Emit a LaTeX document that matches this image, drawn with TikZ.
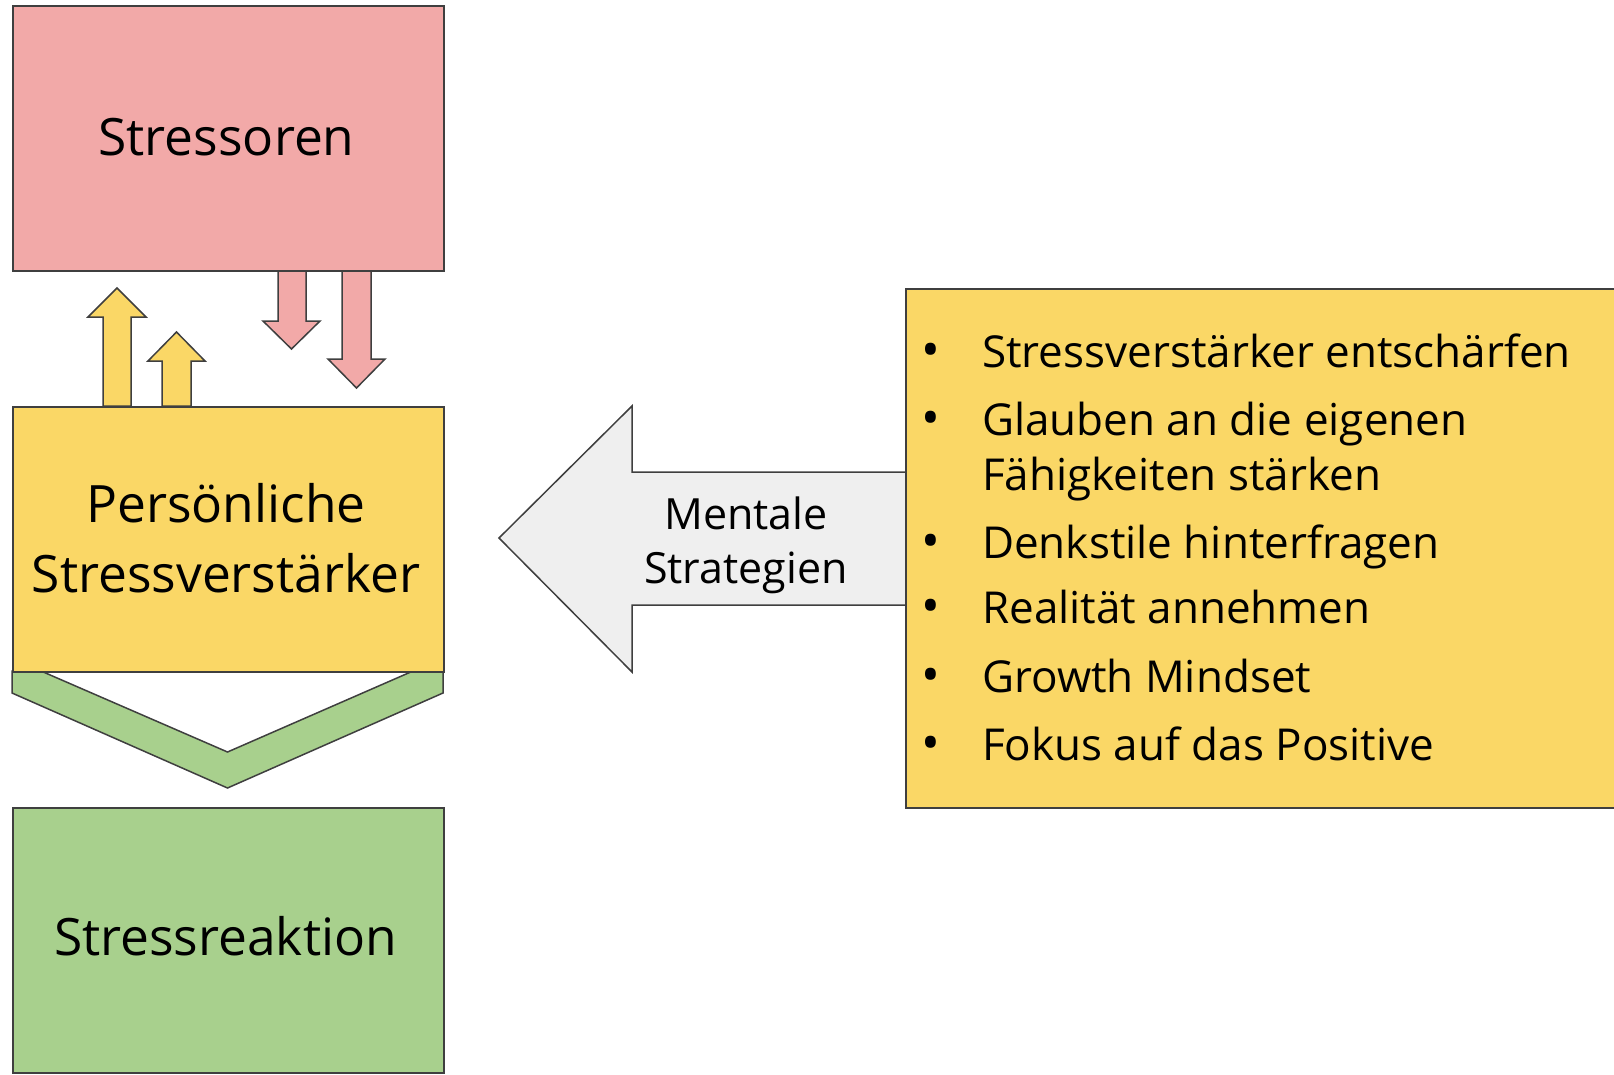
\documentclass[tikz,border=0pt]{standalone}
\usepackage{fontspec}
\setmainfont{Open Sans}
\definecolor{linec}{HTML}{3F3F3F}
\definecolor{pinkc}{HTML}{F2A9A8}
\definecolor{yellowc}{HTML}{FAD766}
\definecolor{greenc}{HTML}{A8D08D}
\definecolor{grayc}{HTML}{EFEFEF}
\begin{document}
\begin{tikzpicture}[x=1pt,y=-1pt,
  box/.style={draw=linec, line width=1.5pt, inner sep=0pt, anchor=north west, minimum width=431pt, minimum height=265pt},
  blk/.style={draw=linec, line width=1.5pt, line join=miter},
  big/.style={font=\fontsize{51.5}{60}\selectfont, anchor=base, inner sep=0pt},
  mid/.style={font=\fontsize{43}{50}\selectfont, anchor=base, inner sep=0pt},
  lst/.style={font=\fontsize{44}{50}\selectfont, anchor=base west, inner sep=0pt},
  bul/.style={font=\fontsize{50}{50}\selectfont, anchor=base, inner sep=0pt}]
\useasboundingbox (0,0) rectangle (1614,1074);
\clip (0,0) rectangle (1614,1074);
% block arrows
\draw[blk, fill=yellowc] (103,406) -- (103,317) -- (88,317) -- (117,288) -- (146,317) -- (131,317) -- (131,406) -- cycle;
\draw[blk, fill=yellowc] (162,406) -- (162,361) -- (148,361) -- (176.5,332) -- (205,361) -- (191,361) -- (191,406) -- cycle;
\draw[blk, fill=pinkc] (278,270) -- (278,321) -- (263,321) -- (291.5,349) -- (320,321) -- (306,321) -- (306,270) -- cycle;
\draw[blk, fill=pinkc] (342,270) -- (342,359) -- (328,359) -- (356.5,388) -- (385,359) -- (371,359) -- (371,270) -- cycle;
% chevron
\draw[blk, fill=greenc] (12,671) -- (12,693) -- (227.5,788) -- (443,693) -- (443,671) -- (413,671) -- (227.5,752) -- (41,671) -- cycle;
% big gray arrow
\draw[blk, fill=grayc] (915,472) -- (632,472) -- (632,406) -- (499,538) -- (632,672) -- (632,605) -- (915,605) -- cycle;
% boxes
\node[box, fill=pinkc] (stressoren) at (12,5) {};
\node[box, fill=yellowc] (verst) at (12,406) {};
\node[box, fill=greenc] (reaktion) at (12,807) {};
\node[box, fill=yellowc, minimum width=760pt, minimum height=519pt] (strat) at (905,288) {};
% texts
\node[big] (t1) at (226.5,155) {Stressoren};
\node[big] (t2a) at (226,522) {Persönliche};
\node[big] (t2b) at (226,592) {Stressverstärker};
\node[big] (t3) at (225.5,955) {Stressreaktion};
\node[mid] (m1) at (746,529) {Mentale};
\node[mid] (m2) at (746,583) {Strategien};
\node[bul] (b1) at (931,367) {•};
\node[lst] (l1) at (982,367) {Stressverstärker entschärfen};
\node[bul] (b2) at (931,435) {•};
\node[lst] (l2) at (982,435) {Glauben an die eigenen};
\node[lst] (l2b) at (982,490) {Fähigkeiten stärken};
\node[bul] (b3) at (931,558) {•};
\node[lst] (l3) at (982,558) {Denkstile hinterfragen};
\node[bul] (b4) at (931,623) {•};
\node[lst] (l4) at (982,623) {Realität annehmen};
\node[bul] (b5) at (931,692) {•};
\node[lst] (l5) at (982,692) {Growth Mindset};
\node[bul] (b6) at (931,760) {•};
\node[lst] (l6) at (982,760) {Fokus auf das Positive};
\end{tikzpicture}
\end{document}
